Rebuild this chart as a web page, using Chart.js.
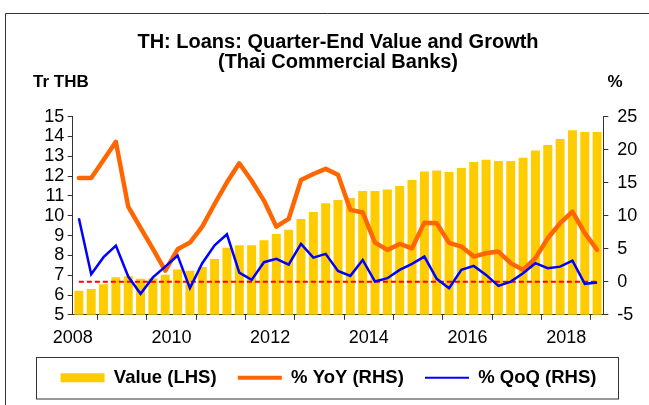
<!DOCTYPE html>
<html><head><meta charset="utf-8">
<script src="https://cdn.jsdelivr.net/npm/chart.js@4.4.0/dist/chart.umd.min.js"></script>
<style>html,body{margin:0;padding:0;background:#fff;} canvas{display:block;}</style>
</head><body>
<canvas id="c" width="649" height="405"></canvas>
<script>
const quarters = [
  '2008Q1','2008Q2','2008Q3','2008Q4','2009Q1','2009Q2','2009Q3','2009Q4',
  '2010Q1','2010Q2','2010Q3','2010Q4','2011Q1','2011Q2','2011Q3','2011Q4',
  '2012Q1','2012Q2','2012Q3','2012Q4','2013Q1','2013Q2','2013Q3','2013Q4',
  '2014Q1','2014Q2','2014Q3','2014Q4','2015Q1','2015Q2','2015Q3','2015Q4',
  '2016Q1','2016Q2','2016Q3','2016Q4','2017Q1','2017Q2','2017Q3','2017Q4',
  '2018Q1','2018Q2','2018Q3'
];
const loanValues = [
  6.22, 6.31, 6.55, 6.90,  6.95, 6.82, 6.85, 7.03,
  7.29, 7.22, 7.42, 7.82,  8.39, 8.51, 8.51, 8.76,
  9.08, 9.30, 9.84, 10.19, 10.63, 10.80, 10.90, 11.25,
  11.25, 11.32, 11.50, 11.81, 12.24, 12.29, 12.21, 12.41,
  12.72, 12.83, 12.77, 12.77, 12.93, 13.30, 13.57, 13.87,
  14.31, 14.23, 14.23
];
const yoyGrowth = [
  15.73, 15.73, 18.45, 21.2,  11.38, 8.16, 4.98, 1.70,
  4.93, 5.94, 8.36, 11.79,  15.07, 17.95, 15.3, 12.3,
  8.36, 9.52, 15.4, 16.33,  17.1, 16.2, 10.9, 10.5,
  5.94, 4.83, 5.74, 5.08,   8.96, 8.87, 5.9, 5.33,
  3.82, 4.33, 4.58, 2.82,   1.81, 3.58, 6.6, 8.87,
  10.64, 7.37, 4.83
];
const qoqGrowth = [
  9.63, 1.15, 3.73, 5.49,  0.80, -1.82, 0.67, 2.3,
  3.97, -0.96, 2.82, 5.54, 7.2, 1.4, 0.3, 2.97,
  3.47, 2.61, 5.74, 3.67,  4.23, 1.66, 0.9, 3.32,
  0.04, 0.55, 1.81, 2.72,  3.82, 0.45, -0.96, 1.81,
  2.41, 1.05, -0.61, 0.04, 1.3, 2.82, 2.06, 2.3,
  3.21, -0.3, -0.1
];
const zeroLevel = 0;
const xTickLabels = ['2008','2010','2012','2014','2016','2018'];
const legendLabels = ['Value (LHS)', '% YoY (RHS)', '% QoQ (RHS)'];
const titleLines = ['TH: Loans: Quarter-End Value and Growth', '(Thai Commercial Banks)'];
const leftUnit = 'Tr THB';
const rightUnit = '%';

const FONT = '"Liberation Sans", Arial, sans-serif';
Chart.defaults.font.family = FONT;
Chart.defaults.color = '#000';

const COL_BAR = '#FFCC00', COL_YOY = '#FF6600', COL_QOQ = '#0000FF', COL_ZERO = '#FF0000', COL_AXIS = '#333333';

function qToX(q) { const p = q.split('Q'); return Number(p[0]) + (Number(p[1]) - 1) / 4 + 0.125; }
const xs = quarters.map(qToX);
const pts = arr => arr.map((v, i) => ({ x: xs[i], y: v }));
const firstYear = Number(quarters[0].slice(0, 4));
const lastX = xs[xs.length - 1] + 0.125;

const decor = {
  id: 'decor',
  beforeDraw(chart) {
    const c = chart.ctx; c.save(); c.fillStyle = '#fff'; c.fillRect(0, 0, chart.width, chart.height); c.restore();
  },
  afterDraw(chart) {
    const c = chart.ctx; c.save();
    c.strokeStyle = COL_AXIS; c.lineWidth = 1;
    c.beginPath(); c.moveTo(5.5, chart.height); c.lineTo(5.5, 13.5); c.lineTo(chart.width, 13.5); c.stroke();
    c.strokeRect(36.5, 357.5, 582, 41.5);
    c.fillStyle = '#000'; c.font = 'bold 17px ' + FONT; c.textBaseline = 'alphabetic'; c.textAlign = 'left';
    c.fillText(leftUnit, 33, 87);
    c.fillText(rightUnit, 607.5, 86.7);
    c.restore();
  }
};

new Chart(document.getElementById('c'), {
  data: {
    datasets: [
      { type: 'line', label: legendLabels[2], data: pts(qoqGrowth), yAxisID: 'y2', borderColor: COL_QOQ, borderWidth: 2.5, pointRadius: 0, tension: 0, order: 1 },
      { type: 'line', label: legendLabels[1], data: pts(yoyGrowth), yAxisID: 'y2', borderColor: COL_YOY, borderWidth: 4.5, pointRadius: 0, tension: 0, borderJoinStyle: 'round', borderCapStyle: 'round', order: 2 },
      { type: 'line', label: 'zero', data: [{ x: xs[0], y: zeroLevel }, { x: xs[xs.length - 1], y: zeroLevel }], yAxisID: 'y2', borderColor: COL_ZERO, borderWidth: 2, borderDash: [5, 3], pointRadius: 0, order: 3 },
      { type: 'bar', label: legendLabels[0], data: pts(loanValues), yAxisID: 'y', backgroundColor: COL_BAR, categoryPercentage: 1, barPercentage: 0.73, order: 4 }
    ]
  },
  options: {
    responsive: false, animation: false, devicePixelRatio: 1,
    layout: { padding: { left: 8, right: 0, top: 0, bottom: 8 } },
    plugins: {
      title: { display: true, text: titleLines, fullSize: false, color: '#000',
        font: { size: 20, weight: 'bold', lineHeight: 1.0 }, padding: { top: 32.3, bottom: 44.4 } },
      legend: {
        display: true, position: 'bottom',
        labels: {
          usePointStyle: true, pointStyleWidth: 44, boxHeight: 9, padding: 21.2, color: '#000',
          font: { size: 18.5, weight: 'bold' },
          generateLabels: () => [
            { text: legendLabels[0], fillStyle: COL_BAR, strokeStyle: COL_BAR, lineWidth: 0, pointStyle: 'rect', hidden: false, datasetIndex: 3 },
            { text: legendLabels[1], fillStyle: COL_YOY, strokeStyle: COL_YOY, lineWidth: 4, pointStyle: 'line', hidden: false, datasetIndex: 1 },
            { text: legendLabels[2], fillStyle: COL_QOQ, strokeStyle: COL_QOQ, lineWidth: 2, pointStyle: 'line', hidden: false, datasetIndex: 0 }
          ]
        }
      },
      tooltip: { enabled: false }
    },
    scales: {
      x: {
        type: 'linear', min: firstYear, max: lastX, offset: false,
        grid: { drawOnChartArea: false, drawTicks: true, tickLength: 5, color: COL_AXIS },
        border: { color: COL_AXIS, width: 1 },
        ticks: { stepSize: 1, includeBounds: false, autoSkip: false, maxRotation: 0, padding: 7, font: { size: 18 }, color: '#000',
          callback: v => xTickLabels.includes(String(v)) ? String(v) : '' },
        afterFit: s => { s.height = 32.45; }
      },
      y: {
        position: 'left', min: 5, max: 15,
        grid: { drawOnChartArea: false, drawTicks: true, tickLength: 5, color: COL_AXIS },
        border: { color: COL_AXIS, width: 1 },
        ticks: { stepSize: 1, autoSkip: false, padding: 3.4, font: { size: 18 }, color: '#000' },
        afterFit: s => { s.width = 64.7; }
      },
      y2: {
        position: 'right', min: -5, max: 25,
        grid: { drawOnChartArea: false, drawTicks: true, tickLength: 5, color: COL_AXIS },
        border: { color: COL_AXIS, width: 1 },
        ticks: { stepSize: 5, autoSkip: false, padding: 9, font: { size: 18 }, color: '#000' },
        afterFit: s => { s.width = 45.7; }
      }
    }
  },
  plugins: [decor]
});
</script>
</body></html>
